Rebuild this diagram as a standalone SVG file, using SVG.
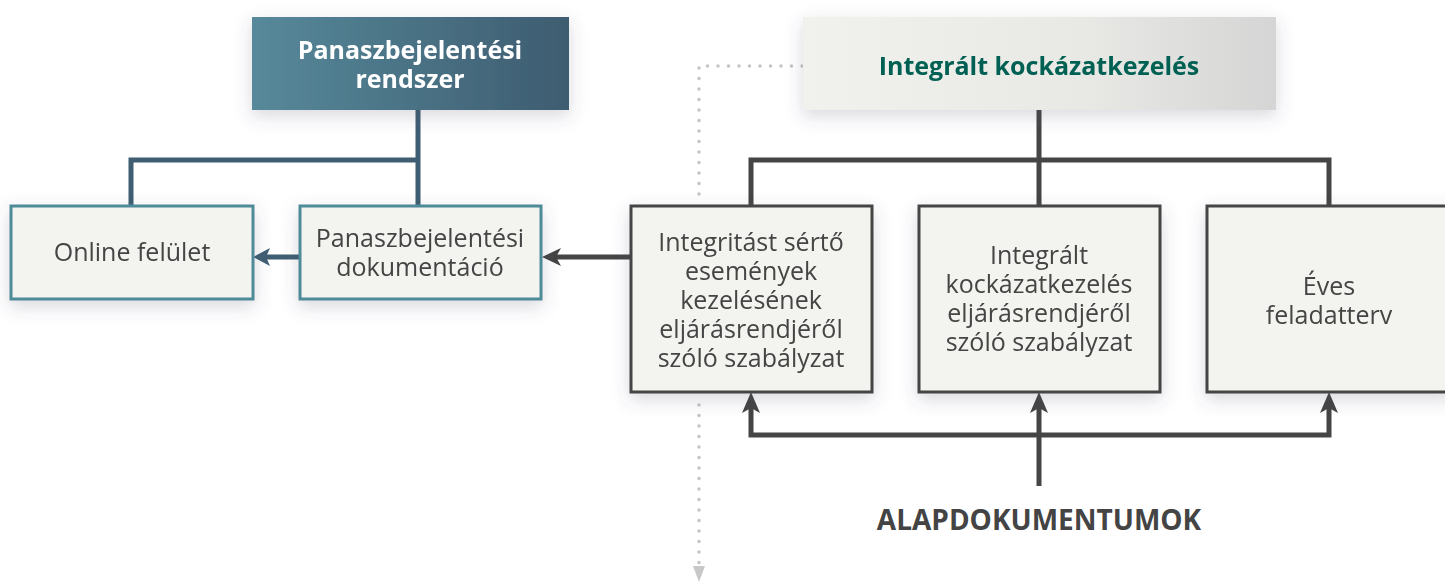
<svg xmlns="http://www.w3.org/2000/svg" width="1445" height="586" viewBox="0 0 1445 586">
<defs>
<linearGradient id="gTeal" x1="0" y1="0" x2="1" y2="0">
<stop offset="0" stop-color="#56899a"/>
<stop offset="1" stop-color="#3e5c70"/>
</linearGradient>
<linearGradient id="gGray" x1="0" y1="0" x2="1" y2="0">
<stop offset="0" stop-color="#f1f1ed"/>
<stop offset="0.6" stop-color="#e8e8e5"/>
<stop offset="1" stop-color="#d5d5d5"/>
</linearGradient>
<filter id="sh" x="-20%" y="-30%" width="140%" height="160%">
<feDropShadow dx="0" dy="6" stdDeviation="9" flood-color="#50506a" flood-opacity="0.22"/>
</filter>
<style>
text{font-family:"Open Sans","Noto Sans","Liberation Sans",sans-serif;text-anchor:middle}
.t{font-size:25px;fill:#444;font-weight:400}
.hb{font-size:25px;font-weight:700}
.box{fill:#f3f3ef;stroke-width:3}
.tealbox{stroke:#4f8a99}
.darkbox{stroke:#454545}
.tl{stroke:#3f5e72;stroke-width:5;fill:none}
.dl{stroke:#454545;stroke-width:5;fill:none}
.dot{stroke:#c4c4c4;stroke-width:3.5;fill:none;stroke-dasharray:0 10.5;stroke-linecap:round}
</style>
</defs>
<g id="connectors">
<path class="dot" d="M802,66 H699 V195"/>
<path class="dot" d="M699,405 V565"/>
<path d="M699,566 L693,566 L699,582 L705,566 Z" fill="#c8c8c8"/>
<path class="tl" d="M418,110 V207 M131,207 V160 H418"/>
<path class="tl" d="M299,257 H262"/>
<path d="M253,257 L270,248 L266,257 L270,266 Z" fill="#3f5e72"/>
<path class="dl" d="M630,257 H552"/>
<path d="M542,257 L561,248 L556,257 L561,266 Z" fill="#444"/>
<path class="dl" d="M1039,110 V207 M751,207 V160 H1329 V207"/>
<path class="dl" d="M1039,486 V402 M751,402 V435 H1329 V402"/>
<path d="M1039,392 L1030,413 L1039,408 L1048,413 Z" fill="#444"/>
<path d="M751,392 L742,413 L751,408 L760,413 Z" fill="#444"/>
<path d="M1329,392 L1320,413 L1329,408 L1338,413 Z" fill="#444"/>
</g>
<g id="n_panasz_rendszer" filter="url(#sh)">
<rect x="252" y="17" width="317" height="93" fill="url(#gTeal)"/>
<text class="hb" fill="#fff" x="410" y="59">Panaszbejelentési</text>
<text class="hb" fill="#fff" x="410" y="88">rendszer</text>
</g>
<g id="n_integralt" filter="url(#sh)">
<rect x="803" y="17" width="473" height="93" fill="url(#gGray)"/>
<text class="hb" fill="#006152" x="1039" y="75">Integrált kockázatkezelés</text>
</g>
<g id="n_online" filter="url(#sh)">
<rect class="box tealbox" x="11" y="206" width="242" height="93"/>
<text class="t" x="132" y="261">Online felület</text>
</g>
<g id="n_panasz_dok" filter="url(#sh)">
<rect class="box tealbox" x="300" y="206" width="241" height="93"/>
<text class="t" x="420" y="247">Panaszbejelentési</text>
<text class="t" x="420" y="276">dokumentáció</text>
</g>
<g id="n_integritas" filter="url(#sh)">
<rect class="box darkbox" x="631" y="206" width="241" height="186"/>
<text class="t" x="751" y="251">Integritást sértő</text>
<text class="t" x="751" y="280">események</text>
<text class="t" x="751" y="309">kezelésének</text>
<text class="t" x="751" y="338">eljárásrendjéről</text>
<text class="t" x="751" y="367">szóló szabályzat</text>
</g>
<g id="n_ikk_szab" filter="url(#sh)">
<rect class="box darkbox" x="919" y="206" width="241" height="186"/>
<text class="t" x="1039" y="264">Integrált</text>
<text class="t" x="1039" y="293">kockázatkezelés</text>
<text class="t" x="1039" y="322">eljárásrendjéről</text>
<text class="t" x="1039" y="351">szóló szabályzat</text>
</g>
<g id="n_eves" filter="url(#sh)">
<rect class="box darkbox" x="1207" y="206" width="244" height="186"/>
<text class="t" x="1329" y="295">Éves</text>
<text class="t" x="1329" y="324">feladatterv</text>
</g>
<g id="n_alap">
<text class="hb" fill="#444" x="1039" y="530" style="font-size:28px">ALAPDOKUMENTUMOK</text>
</g>
</svg>
